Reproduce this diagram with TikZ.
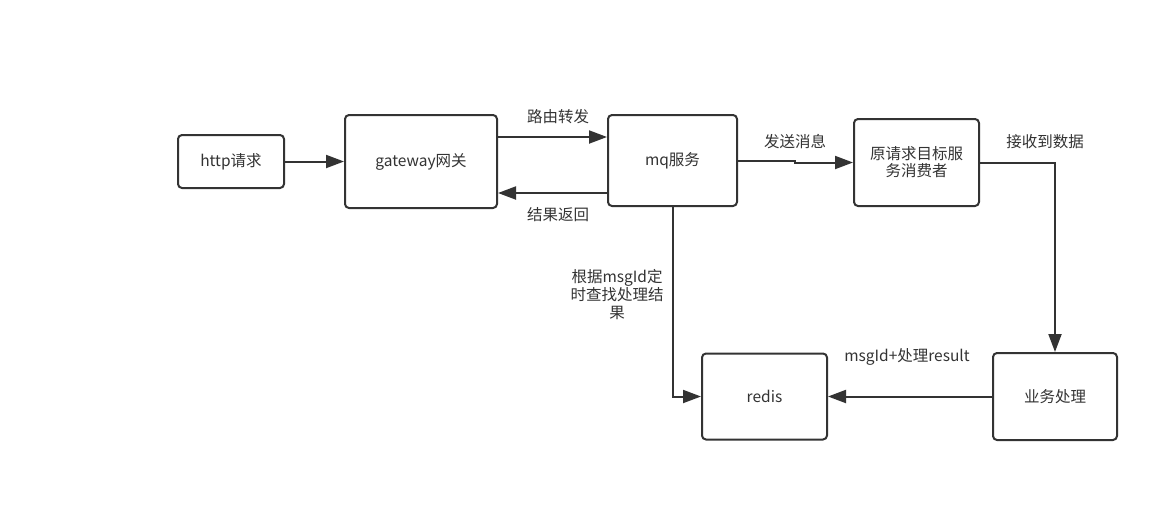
\documentclass[tikz,border=0pt]{standalone}
\usepackage{fontspec}
\newfontfamily\cjk{Noto Sans CJK SC}
\usetikzlibrary{arrows.meta}
\definecolor{ln}{HTML}{333333}
\definecolor{tx}{HTML}{333333}
\begin{document}
\begin{tikzpicture}[x=1pt,y=-1pt,
  box/.style={draw=ln,line width=2pt,rounded corners=4pt,fill=white,inner sep=2pt,
    font=\cjk\fontsize{15.5}{20}\selectfont,text=tx,align=center},
  lbl/.style={font=\cjk\fontsize{15.5}{20}\selectfont,text=tx,align=center,inner sep=0pt},
  conn/.style={draw=ln,line width=2pt,-{Triangle[length=18pt,width=13pt]}}]
\path[use as bounding box] (0,0) rectangle (1171,504);
\node[box,minimum width=106pt,minimum height=53pt] (http) at (231,161.5) {http请求};
\node[box,minimum width=152pt,minimum height=93pt] (gw) at (421,161.5) {gateway网关};
\node[box,minimum width=129pt,minimum height=91pt] (mq) at (672.5,160.5) {mq服务};
\node[box,minimum width=125pt,minimum height=87pt] (cons) at (916.5,162.5) {原请求目标服\\[-3pt]务消费者};
\node[box,minimum width=125pt,minimum height=86pt] (redis) at (764.5,396.5) {redis};
\node[box,minimum width=124pt,minimum height=87pt] (biz) at (1055,396.5) {业务处理};
\coordinate (c1) at (795,0);
\draw[conn] (http.east) -- (gw.west);
\draw[conn] (gw.east |- 0,137) -- (mq.west |- 0,137);
\draw[conn] (mq.west |- 0,193) -- (gw.east |- 0,193);
\draw[conn] (mq.east) -- (mq.east -| c1) |- (cons.west);
\draw[conn] (cons.east) -| (biz.north);
\draw[conn] (mq.south) |- (redis.west);
\draw[conn] (biz.west) -- (redis.east);
\node[lbl] (l1) at (558,117) {路由转发};
\node[lbl] (l2) at (558,215) {结果返回};
\node[lbl] (l3) at (795,142) {发送消息};
\node[lbl] (l4) at (1045,142) {接收到数据};
\node[lbl] (l5) at (617,295) {根据msgId定\\[-2pt]时查找处理结\\[-2pt]果};
\node[lbl] (l6) at (907,357) {msgId+处理result};
\end{tikzpicture}
\end{document}
